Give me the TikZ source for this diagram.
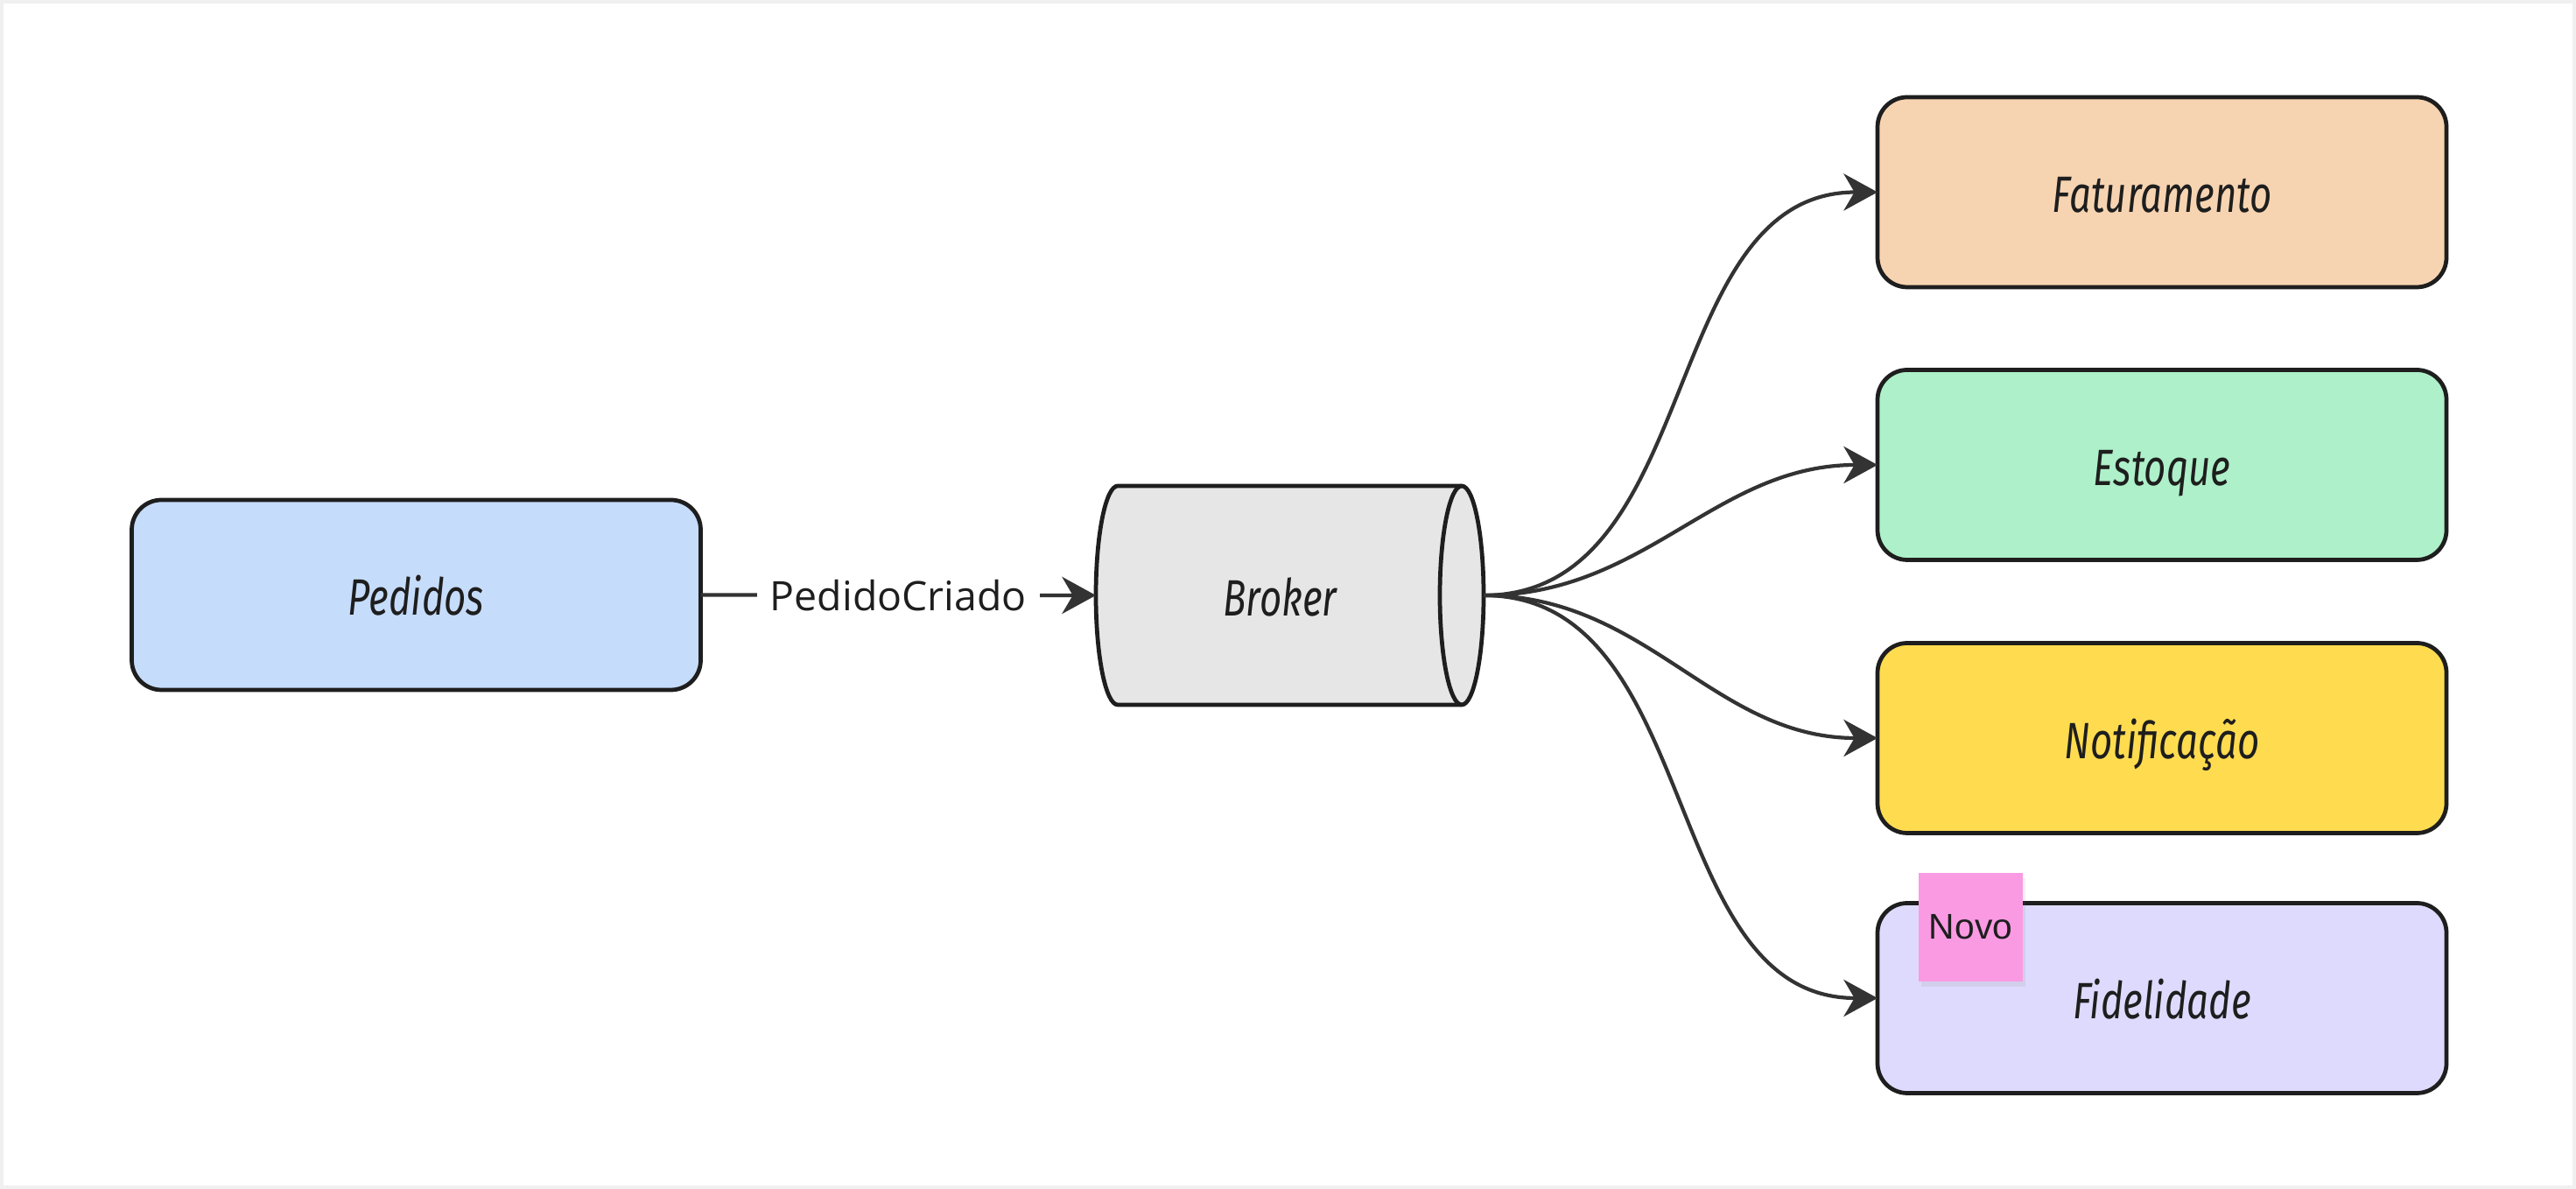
\documentclass[tikz,border=0pt]{standalone}
\usepackage{fontspec}
\usetikzlibrary{arrows.meta, shadows}
\setmainfont{Open Sans}
\newfontfamily\handfont[FakeStretch=0.75]{Fira Sans}
\newfontfamily\stickyfont{Liberation Sans}

\definecolor{ink}{HTML}{1E1E1E}
\definecolor{wirecol}{HTML}{333333}
\definecolor{pedidosblue}{HTML}{C6DCFB}
\definecolor{brokergray}{HTML}{E6E6E6}
\definecolor{faturpeach}{HTML}{F7D4B1}
\definecolor{estoquegreen}{HTML}{AEF0C9}
\definecolor{notifyellow}{HTML}{FFDC4F}
\definecolor{fidelililac}{HTML}{DEDAFD}
\definecolor{stickypink}{HTML}{FA9AE3}

\begin{document}
\begin{tikzpicture}[
  box/.style = {draw=ink, line width=1.35pt, rounded corners=0.34cm, minimum width=6.5cm,
                minimum height=2.17cm, inner sep=0pt, outer sep=0pt, text=ink,
                text height=0.6cm, text depth=0.13cm,
                font=\handfont\itshape\fontsize{16.6}{18}\selectfont},
  wire/.style = {draw=wirecol, line width=1.2pt, -{Stealth[length=11pt, width=12pt, inset=3.5pt]}},
]

% Fix the canvas and its faint frame.
\useasboundingbox (0,0) rectangle (29.43,-13.58);
\draw[gray!12, line width=1pt] (0.02,-0.02) rectangle (29.41,-13.56);

% Producer.
\node[box, fill=pedidosblue] (pedidos) at (4.755,-6.795) {Pedidos};

% Broker: a lying cylinder drawn round a plain node.
\node[minimum width=4.43cm, minimum height=2.5cm, inner sep=0pt, outer sep=0pt] (broker) at (14.735,-6.80) {};
\filldraw[draw=ink, fill=brokergray, line width=1.35pt]
  ([xshift=0.25cm]broker.north west) -- ([xshift=-0.25cm]broker.north east)
  arc[start angle=90, end angle=-90, x radius=0.25cm, y radius=1.25cm]
  -- ([xshift=0.25cm]broker.south west)
  arc[start angle=270, end angle=90, x radius=0.25cm, y radius=1.25cm] -- cycle;
\draw[ink, line width=1.35pt] ([xshift=-0.25cm]broker.north east)
  arc[start angle=90, end angle=270, x radius=0.25cm, y radius=1.25cm];
\node[text=ink, text height=0.6cm, text depth=0.13cm, inner sep=0pt,
      font=\handfont\itshape\fontsize{16.6}{18}\selectfont] (brokerlabel) at ([xshift=-0.11cm]broker.center) {Broker};

% Consumers.
\node[box, fill=faturpeach] (faturamento) at (24.70,-2.195) {Faturamento};
\node[box, fill=estoquegreen] (estoque) at (24.70,-5.31) {Estoque};
\node[box, fill=notifyellow] (notificacao) at (24.70,-8.43) {Notificação};
\node[box, fill=fidelililac] (fidelidade) at (24.70,-11.40) {Fidelidade};

% Sticky note on the new consumer.
\node[fill=stickypink, minimum width=1.19cm, minimum height=1.24cm, inner sep=0pt, text=ink,
      drop shadow={opacity=0.12, shadow xshift=0.3mm, shadow yshift=-0.6mm},
      font=\stickyfont\fontsize{11.6}{13}\selectfont] (novo) at (22.515,-10.59) {Novo};

% Event published to the broker.
\draw[wire] (pedidos.east) -- node[fill=white, inner xsep=0.15cm, inner ysep=2pt, text=ink,
      font=\fontsize{13.2}{15}\selectfont] (evento) {PedidoCriado} (broker.west);

% Fan-out to consumers.
\foreach \target in {faturamento, estoque, notificacao, fidelidade}
  \draw[wire] (broker.east) to[out=0, in=180] (\target.west);

\end{tikzpicture}
\end{document}
